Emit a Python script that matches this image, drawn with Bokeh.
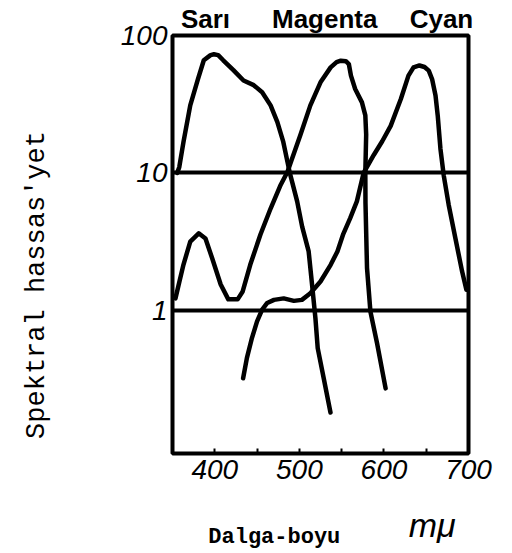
from bokeh.plotting import figure
from bokeh.models import Range1d, FixedTicker, BasicTickFormatter, LinearAxis
from bokeh.embed import file_html
from bokeh.resources import INLINE

# ---- data ----
curve_names = ["Sarı", "Magenta", "Cyan"]
name_x = [389, 530, 668]          # wavelength where each name is centred

sari_nm = [355.5, 358, 363, 371, 380, 387, 395, 399, 404, 410, 422, 434, 446, 456, 466,
           474, 481, 488.7, 497.4, 503.3, 511, 515, 519, 521.7, 528.8, 536.8]
sari_val = [10, 11, 16.8, 31, 48, 66, 72, 73, 72, 66, 56, 47, 43.5, 38.6, 31,
            23.4, 16.8, 10, 6.2, 4.06, 2.68, 1.54, 0.875, 0.53, 0.32, 0.18]

mag_nm = [353.5, 358, 363, 371, 381, 389, 397, 407, 416, 427, 433, 442, 454, 466, 478,
          486, 490, 501, 513, 525, 537, 544, 549, 555, 558.5, 561, 566, 574, 578, 579,
          578, 578.2, 580, 584, 592, 602]
mag_val = [1.22, 1.6, 2.15, 3.16, 3.63, 3.33, 2.38, 1.54, 1.2, 1.2, 1.37, 2.15, 3.56, 5.5, 8.2,
           10.2, 12, 18.7, 31, 45.6, 58.6, 64, 65.6, 65, 62, 51, 40.8, 32.6, 26.2, 19,
           10, 6, 2.03, 0.98, 0.57, 0.27]

cyan_nm = [433.5, 438, 444, 450, 456, 462, 470, 481.5, 493.5, 503, 513, 525, 537, 545,
           552, 560, 568, 576, 588, 598, 608, 620, 629, 635, 642, 648, 653, 657, 661,
           663.6, 666.8, 670.7, 676.6, 684.5, 692.4, 697.5]
cyan_val = [0.32, 0.45, 0.63, 0.83, 1.01, 1.13, 1.19, 1.22, 1.17, 1.19, 1.33, 1.62, 2.14, 2.68,
            3.6, 4.67, 6.2, 10, 13.5, 17, 22, 34.5, 51, 58.6, 60.5, 59, 55.5, 48, 36.6,
            26.2, 15, 9.6, 5.84, 3.34, 1.92, 1.41]

x_ticks = [400, 450, 500, 550, 600, 650, 700]
x_tick_labels = {400: "400", 450: "", 500: "500", 550: "", 600: "600", 650: "", 700: "700"}
y_ticks = [1, 10, 100]
y_tick_labels = {1: "1", 10: "10", 100: "100"}
grid_levels = [1, 10]

x_label = "Dalga-boyu"
x_unit = "mμ"
x_unit_at = 657
y_label = "Spektral hassas'yet"

# ---- figure ----
p = figure(width=512, height=553, y_axis_type="log",
           x_range=Range1d(350, 700), y_range=Range1d(0.0906, 100),
           output_backend="svg", toolbar_location=None,
           min_border_left=172, min_border_right=44,
           min_border_top=33, min_border_bottom=100)
p.background_fill_color = "white"
p.border_fill_color = "white"
p.outline_line_color = "black"
p.outline_line_width = 4

for xs, ys in [(sari_nm, sari_val), (mag_nm, mag_val), (cyan_nm, cyan_val)]:
    p.line(xs, ys, line_color="black", line_width=4.5,
           line_join="round", line_cap="round")

# grid
p.xgrid.grid_line_color = None
p.ygrid.ticker = FixedTicker(ticks=grid_levels)
p.ygrid.grid_line_color = "black"
p.ygrid.grid_line_width = 4

# x axis
xa = p.xaxis[0]
xa.ticker = FixedTicker(ticks=x_ticks)
xa.major_label_overrides = x_tick_labels
xa.axis_line_color = None
xa.major_tick_in = 5
xa.major_tick_out = 0
xa.major_tick_line_width = 2
xa.minor_tick_line_color = None
xa.major_label_standoff = 6
xa.major_label_text_font = "Liberation Sans"
xa.major_label_text_font_style = "italic"
xa.major_label_text_font_size = "28px"
xa.major_label_text_color = "black"
xa.axis_label = x_label + " " * 7
xa.axis_label_standoff = 43
xa.axis_label_text_font = "Liberation Mono"
xa.axis_label_text_font_style = "bold"
xa.axis_label_text_font_size = "22px"
xa.axis_label_text_color = "black"

# unit, as a second bottom axis pulled up into the title row
ua = LinearAxis(ticker=FixedTicker(ticks=[x_unit_at]),
                major_label_overrides={x_unit_at: x_unit})
ua.axis_line_color = None
ua.major_tick_line_color = None
ua.minor_tick_line_color = None
ua.major_tick_in = 0
ua.major_tick_out = 0
ua.major_label_standoff = -47
ua.major_label_text_font = "Liberation Sans"
ua.major_label_text_font_style = "italic"
ua.major_label_text_font_size = "34px"
ua.major_label_text_color = "black"
p.add_layout(ua, "below")

# y axis
ya = p.yaxis[0]
ya.ticker = FixedTicker(ticks=y_ticks)
ya.formatter = BasicTickFormatter()
ya.major_label_overrides = y_tick_labels
ya.axis_line_color = None
ya.major_tick_line_color = None
ya.minor_tick_line_color = None
ya.major_tick_in = 0
ya.major_tick_out = 0
ya.major_label_standoff = 5
ya.major_label_text_font = "Liberation Sans"
ya.major_label_text_font_style = "italic"
ya.major_label_text_font_size = "28px"
ya.major_label_text_color = "black"
ya.axis_label = y_label + " " * 5
ya.axis_label_standoff = 66
ya.axis_label_text_font = "Liberation Mono"
ya.axis_label_text_font_style = "normal"
ya.axis_label_text_font_size = "27px"
ya.axis_label_text_color = "black"

# curve names above the frame (as an axis on top)
top = LinearAxis(ticker=FixedTicker(ticks=name_x),
                 major_label_overrides={x: n for x, n in zip(name_x, curve_names)})
top.axis_line_color = None
top.major_tick_line_color = None
top.minor_tick_line_color = None
top.major_tick_in = 0
top.major_tick_out = 0
top.major_label_standoff = 2
top.major_label_text_font = "Liberation Sans"
top.major_label_text_font_style = "bold"
top.major_label_text_font_size = "26px"
top.major_label_text_color = "black"
p.add_layout(top, "above")

open("out.html", "w").write(file_html(p, INLINE))
